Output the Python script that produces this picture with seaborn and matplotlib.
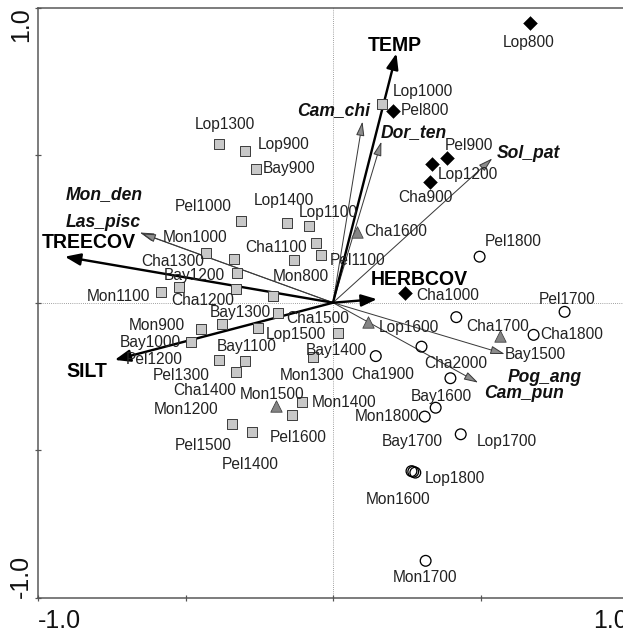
import matplotlib.pyplot as plt
import seaborn as sns
import pandas as pd

sns.set_theme(style="white")
plt.rcParams["font.family"] = ["Liberation Sans", "DejaVu Sans"]

# site scores on CCA axes 1 and 2, one list per marker group
diamond_names = ["Lop800", "Pel800", "Pel900", "Lop1200", "Cha900", "Cha1000"]
diamond_x = [0.667, 0.203, 0.388, 0.336, 0.328, 0.243]
diamond_y = [0.949, 0.650, 0.492, 0.470, 0.410, 0.032]

triangle_names = ["Cha1600", "Cha1500", "Cha1700", "Mon1500"]
triangle_x = [0.081, 0.119, 0.565, -0.192]
triangle_y = [0.241, -0.064, -0.113, -0.350]

circle_names = ["Pel1800", "Pel1700", "Cha1800", "Bay1500", "Lop1600", "Cha1900",
                "Cha2000", "Bay1600", "Mon1800", "Lop1700", "Bay1700", "Lop1800",
                "Mon1600", "Mon1700"]
circle_x = [0.497, 0.785, 0.680, 0.418, 0.300, 0.145,
            0.398, 0.348, 0.311, 0.433, 0.272, 0.279,
            0.266, 0.314]
circle_y = [0.156, -0.031, -0.109, -0.049, -0.149, -0.181,
            -0.256, -0.356, -0.386, -0.446, -0.573, -0.576,
            -0.571, -0.875]

square_names = ["Lop1000", "Lop1300", "Lop900", "Bay900", "Pel1000", "Lop1400",
                "Lop1100", "Cha1100", "Pel1100", "Mon800", "Mon1000", "",
                "Cha1300", "Bay1200", "Cha1200", "Mon1100", "Mon1300", "Bay1300",
                "Mon900", "Mon1200", "Bay1100", "Bay1000", "Pel1200", "Cha1400",
                "Pel1300", "Lop1500", "Bay1400", "Mon1400", "Pel1600", "Pel1500",
                "Pel1400"]
square_x = [0.167, -0.386, -0.299, -0.260, -0.311, -0.156,
            -0.081, -0.059, -0.039, -0.133, -0.429, -0.336,
            -0.522, -0.327, -0.330, -0.584, -0.203, -0.186,
            -0.446, -0.375, -0.253, -0.480, -0.386, -0.299,
            -0.330, 0.017, -0.068, -0.104, -0.139, -0.344,
            -0.273]
square_y = [0.673, 0.538, 0.514, 0.453, 0.278, 0.269,
            0.260, 0.201, 0.162, 0.145, 0.169, 0.147,
            0.052, 0.100, 0.046, 0.035, 0.023, -0.034,
            -0.090, -0.073, -0.087, -0.132, -0.194, -0.198,
            -0.234, -0.102, -0.185, -0.338, -0.381, -0.412,
            -0.439]

# environmental variables (biplot arrows)
env_names = ["TEMP", "TREECOV", "SILT", "HERBCOV"]
env_x = [0.215, -0.909, -0.740, 0.149]
env_y = [0.845, 0.156, -0.194, 0.012]

# species arrows
spec_names = ["Mon_den", "Las_pisc", "Cam_chi", "Dor_ten", "Sol_pat", "Pog_ang", "Cam_pun"]
spec_x = [-0.655, -0.649, 0.100, 0.164, 0.540, 0.582, 0.492]
spec_y = [0.238, 0.235, 0.614, 0.546, 0.489, -0.174, -0.271]

# label placement, offset in points from the mark
label_offset = {
    "Lop800": (-1, -20), "Pel800": (32, 0), "Pel900": (21, 12), "Lop1200": (36, -10),
    "Cha900": (-4, -16), "Cha1000": (43, -2), "Cha1600": (39, 0), "Cha1500": (-50, 3),
    "Cha1700": (-2, 10), "Mon1500": (-4, 11), "Pel1800": (34, 15), "Pel1700": (3, 12),
    "Cha1800": (38, 0), "Bay1500": (79, -37), "Lop1600": (-13, 19), "Cha1900": (7, -18),
    "Cha2000": (5, 15), "Bay1600": (6, 11), "Mon1800": (-38, 0), "Lop1700": (46, -7),
    "Bay1700": (-1, 30), "Lop1800": (40, -6), "Mon1600": (-13, -28), "Mon1700": (-1, -17),
    "Lop1000": (41, 13), "Lop1300": (6, 19), "Lop900": (39, 7), "Bay900": (33, 1),
    "Pel1000": (-38, 14), "Lop1400": (-3, 23), "Lop1100": (19, 13), "Cha1100": (-40, -4),
    "Pel1100": (36, -6), "Mon800": (7, -17), "Mon1000": (-11, 15), "Cha1300": (-6, 26),
    "Bay1200": (-42, -2), "Cha1200": (-33, -11), "Mon1100": (-42, -4), "Mon1300": (39, -80),
    "Bay1300": (-38, 0), "Mon900": (-45, 4), "Mon1200": (-36, -85), "Bay1100": (-12, -18),
    "Bay1000": (-41, -1), "Pel1200": (-65, 0), "Cha1400": (-40, -29), "Pel1300": (-54, -4),
    "Lop1500": (-42, -2), "Bay1400": (23, 7), "Mon1400": (42, 0), "Pel1600": (6, -22),
    "Pel1500": (-28, -21), "Pel1400": (-2, -32),
}
arrow_label_offset = {
    "TEMP": (-2, 8), "TREECOV": (24, 14), "SILT": (-28, -12), "HERBCOV": (42, 20),
    "Mon_den": (-36, 38), "Las_pisc": (-38, 11), "Cam_chi": (-29, 11),
    "Dor_ten": (32, 9), "Sol_pat": (36, 5), "Pog_ang": (40, -23), "Cam_pun": (46, -11),
}

sites = pd.concat([
    pd.DataFrame({"site": diamond_names, "ax1": diamond_x, "ax2": diamond_y, "zone": "diamond"}),
    pd.DataFrame({"site": triangle_names, "ax1": triangle_x, "ax2": triangle_y, "zone": "triangle"}),
    pd.DataFrame({"site": circle_names, "ax1": circle_x, "ax2": circle_y, "zone": "circle"}),
    pd.DataFrame({"site": square_names, "ax1": square_x, "ax2": square_y, "zone": "square"}),
], ignore_index=True)

marker_style = {
    "square": dict(marker="s", s=90, color="#c8c8c8", edgecolor="#404040", linewidth=1.0),
    "diamond": dict(marker="D", s=95, color="black", edgecolor="black", linewidth=0.5),
    "triangle": dict(marker="^", s=130, color="#858585", edgecolor="#404040", linewidth=0.8),
    "circle": dict(marker="o", s=115, color="none", edgecolor="black", linewidth=1.3),
}

fig = plt.figure(figsize=(623 / 72, 637 / 72), dpi=72)
ax = fig.add_axes([38 / 623, 39.3 / 637, 590 / 623, 590 / 637])

ax.axhline(0, color="#777777", lw=0.8, ls=":", zorder=0)
ax.axvline(0, color="#777777", lw=0.8, ls=":", zorder=0)

for name, x, y in zip(spec_names, spec_x, spec_y):
    ax.annotate("", xy=(x, y), xytext=(0, 0),
                arrowprops=dict(arrowstyle="-|>,head_length=1.2,head_width=0.35",
                                mutation_scale=10, lw=1.0, ec="#3a3a3a", fc="#8c8c8c",
                                shrinkA=0, shrinkB=0), zorder=2)
    dx, dy = arrow_label_offset[name]
    ax.annotate(name, xy=(x, y), xytext=(dx, dy), textcoords="offset points",
                ha="center", va="center", fontsize=17.5, fontweight="bold",
                fontstyle="italic", color="#111111", zorder=6)

for name, x, y in zip(env_names, env_x, env_y):
    ax.annotate("", xy=(x, y), xytext=(0, 0),
                arrowprops=dict(arrowstyle="-|>,head_length=1.3,head_width=0.5",
                                mutation_scale=10, lw=2.4, color="black",
                                shrinkA=0, shrinkB=0), zorder=3)
    dx, dy = arrow_label_offset[name]
    ax.annotate(name, xy=(x, y), xytext=(dx, dy), textcoords="offset points",
                ha="center", va="center", fontsize=19.5, fontweight="bold",
                color="black", zorder=6)

for zone, style in marker_style.items():
    sns.scatterplot(data=sites[sites["zone"] == zone], x="ax1", y="ax2", ax=ax,
                    legend=False, zorder=4, **style)

for _, row in sites.iterrows():
    if row["site"] in label_offset:
        dx, dy = label_offset[row["site"]]
        ax.annotate(row["site"], xy=(row["ax1"], row["ax2"]), xytext=(dx, dy),
                    textcoords="offset points", ha="center", va="center",
                    fontsize=15.5, color="#222222", zorder=5)

ax.set_xlim(-1, 1)
ax.set_ylim(-1, 1)
ax.set_xlabel("")
ax.set_ylabel("")
ticks = [-1, -0.5, 0, 0.5, 1]
tick_text = ["-1.0", "", "", "", "1.0"]
ax.set_xticks(ticks)
ax.set_xticklabels(tick_text)
ax.set_yticks(ticks)
ax.set_yticklabels(tick_text, rotation=90)
ax.tick_params(bottom=True, left=True, direction="inout", length=6, width=1.2,
               color="#555555", labelsize=25, labelcolor="#111111")
ax.tick_params(axis="x", pad=8)
ax.tick_params(axis="y", pad=2)
xl = ax.get_xticklabels()
xl[0].set_ha("left")
xl[-1].set_ha("right")
yl = ax.get_yticklabels()
yl[0].set_va("bottom")
yl[-1].set_va("top")

for side in ["left", "top", "bottom"]:
    ax.spines[side].set_color("#555555")
    ax.spines[side].set_linewidth(1.5)
ax.spines["right"].set_visible(False)

fig.savefig("out.png", dpi=72)
